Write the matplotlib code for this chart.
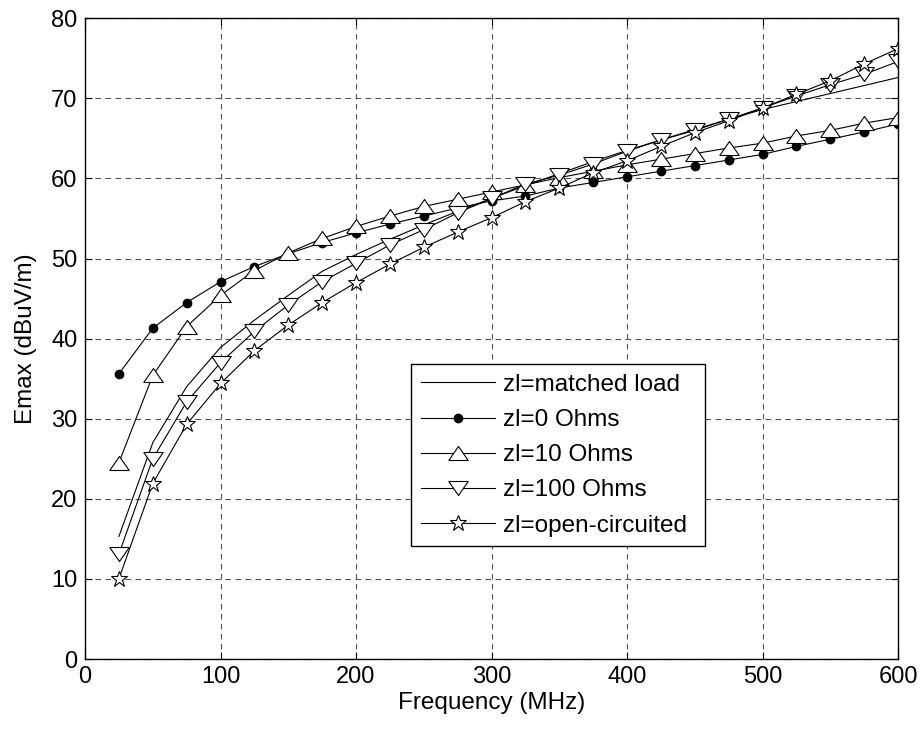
import matplotlib
matplotlib.use("Agg")
import matplotlib.pyplot as plt

plt.rcParams['font.family'] = ['Liberation Sans', 'DejaVu Sans']

freq = [25, 50, 75, 100, 125, 150, 175, 200, 225, 250, 275, 300,
        325, 350, 375, 400, 425, 450, 475, 500, 525, 550, 575, 600]

e_matched = [15.3, 27.0, 34.0, 38.9, 42.3, 45.4, 48.4, 50.5, 52.4, 54.2, 55.9, 57.5,
             59.1, 60.6, 62.1, 63.5, 64.8, 66.1, 67.4, 68.6, 69.6, 70.6, 71.6, 72.6]
e_zl0 = [35.6, 41.3, 44.5, 47.1, 49.0, 50.6, 52.0, 53.2, 54.3, 55.3, 56.3, 57.2,
         57.8, 58.8, 59.5, 60.2, 60.9, 61.6, 62.3, 63.0, 64.0, 64.9, 65.8, 66.8]
e_zl10 = [24.5, 35.4, 41.5, 45.4, 48.5, 50.7, 52.5, 54.0, 55.3, 56.5, 57.4, 58.3,
          59.2, 60.1, 60.9, 61.7, 62.4, 63.1, 63.8, 64.4, 65.3, 66.0, 66.9, 67.6]
e_zl100 = [13.1, 25.0, 32.1, 37.0, 40.9, 44.2, 47.1, 49.4, 51.7, 53.6, 55.7, 57.5,
           59.3, 60.4, 61.8, 63.4, 64.8, 66.0, 67.4, 68.8, 70.3, 71.7, 73.0, 74.6]
e_open = [10.0, 21.9, 29.3, 34.4, 38.5, 41.7, 44.5, 47.0, 49.3, 51.4, 53.3, 55.1,
          57.1, 58.8, 60.7, 62.2, 64.0, 65.7, 67.2, 68.8, 70.5, 72.2, 74.3, 76.2]

labels = ["zl=matched load", "zl=0 Ohms", "zl=10 Ohms", "zl=100 Ohms", "zl=open-circuited"]

# wide, flat triangles
tri_up = [(-1.0, -0.72), (1.0, -0.72), (0.0, 0.72), (-1.0, -0.72)]
tri_down = [(-1.0, 0.72), (1.0, 0.72), (0.0, -0.72), (-1.0, 0.72)]

fig = plt.figure(figsize=(9.23, 7.29), dpi=100)
ax = fig.add_axes([0.0921, 0.096, 0.8809, 0.879])

lw = 0.8
ax.plot(freq, e_matched, color='black', lw=lw, label=labels[0])
ax.plot(freq, e_zl0, color='black', lw=lw, marker='o', ms=6,
        mfc='black', mec='black', label=labels[1])
ax.plot(freq, e_zl10, color='black', lw=lw, marker=tri_up, ms=14,
        mfc='white', mec='black', mew=0.8, label=labels[2])
ax.plot(freq, e_zl100, color='black', lw=lw, marker=tri_down, ms=14,
        mfc='white', mec='black', mew=0.8, label=labels[3])
ax.plot(freq, e_open, color='black', lw=lw, marker='*', ms=12,
        mfc='white', mec='black', mew=0.8, label=labels[4])

ax.set_xlim(0, 600)
ax.set_ylim(0, 80)
ax.set_xticks(range(0, 601, 100))
ax.set_yticks(range(0, 81, 10))
ax.grid(True, linestyle=(0, (5, 4)), color='#555555', lw=0.8)
ax.set_axisbelow(True)
ax.tick_params(direction='in', top=True, right=True, labelsize=17, length=5)
ax.tick_params(axis='x', pad=5)
ax.tick_params(axis='y', pad=5.5)
for sp in ax.spines.values():
    sp.set_linewidth(1.0)

ax.set_xlabel("Frequency (MHz)", fontsize=17.5, labelpad=3)
ax.set_ylabel("Emax (dBuV/m)", fontsize=17.5, labelpad=10)

leg = ax.legend(loc='upper left', bbox_to_anchor=(0.401, 0.0, 0.362, 0.460),
                mode='expand', fontsize=17.5, handlelength=3.05, handletextpad=0.33,
                borderpad=0.4, labelspacing=0.54, fancybox=False, framealpha=1,
                edgecolor='black', borderaxespad=0)
leg.get_frame().set_linewidth(1.0)

fig.savefig("out.png", dpi=100, facecolor='white')
